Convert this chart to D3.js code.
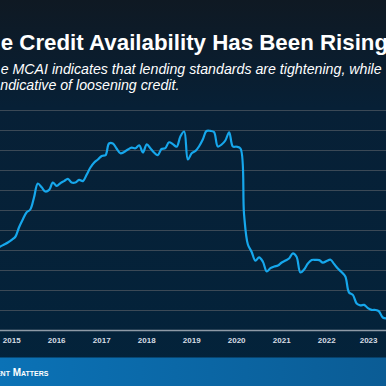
<!DOCTYPE html>
<html><head><meta charset="utf-8">
<script src="https://cdn.jsdelivr.net/npm/d3@7"></script>
<style>html,body{margin:0;padding:0;background:#0a1f30;overflow:hidden}svg{display:block}</style>
</head><body>
<script>
const titleText = "e Credit Availability Has Been Rising";
const subtitleLines = ["e MCAI indicates that lending standards are tightening, while", "ndicative of loosening credit."];
const footerText = "Keeping Current Matters";
const startMonth = "2014-09";
const yearLabels = ["2015","2016","2017","2018","2019","2020","2021","2022","2023"];
const gridValues = [100,110,120,130,140,150,160,170,180,190,200];
const mcai = [131.5,132,133,134,135.3,137,141.5,145.5,149,150.5,156.5,163.5,161.6,159.5,160.3,164,162.3,163.7,164.7,165.8,164,164,165.3,164.7,168,171.5,174,175.5,177.3,177.7,183.5,183.5,181,178.6,179.2,180.5,181.4,181.1,182.6,179,183.1,181,179,177.7,180.75,181.2,184.1,183.2,181.9,187,189.5,175.5,178.6,179.8,182,185.5,189.75,189.8,189.2,182,183,185,189.1,182,181.9,181,148,133,129.4,124.9,126.6,124.4,119.5,121.2,122,122.5,124,125,126,128.6,126.9,119,120.5,123.5,125.25,125.3,125.2,123.9,124.8,125.4,123.3,121,119.2,117,109,107.8,103.5,102.6,102.8,101.2,100.3,100.25,99.6,96.5,96.1];

const W = 386, H = 386;
const svg = d3.select("body").append("svg").attr("width", W).attr("height", H);
const defs = svg.append("defs");
const bg = defs.append("linearGradient").attr("id","bg").attr("x1",0).attr("y1",0).attr("x2",0).attr("y2",1);
bg.append("stop").attr("offset","0%").attr("stop-color","#0f1923");
bg.append("stop").attr("offset","28%").attr("stop-color","#072036");
bg.append("stop").attr("offset","100%").attr("stop-color","#03233b");
const ban = defs.append("linearGradient").attr("id","ban").attr("x1",0).attr("y1",0).attr("x2",1).attr("y2",0);
ban.append("stop").attr("offset","0%").attr("stop-color","#0b72b6");
ban.append("stop").attr("offset","100%").attr("stop-color","#0b5c95");
defs.append("clipPath").attr("id","clip").append("rect").attr("x",0).attr("y",0).attr("width",W).attr("height",H);

svg.append("rect").attr("width",W).attr("height",H).attr("fill","url(#bg)");

const parse = d3.timeParse("%Y-%m");
const start = parse(startMonth);
const data = mcai.map((v,i)=>({date:d3.timeMonth.offset(start,i), value:v}));

const x = d3.scaleTime().domain([new Date(2015,0,1), new Date(2023,0,1)]).range([11.7, 371.7]);
const y = d3.scaleLinear().domain([90,200]).range([330.5,110.5]);

// gridlines
svg.append("g").selectAll("line").data(gridValues).join("line")
  .attr("x1",0).attr("x2",W).attr("y1",d=>y(d)).attr("y2",d=>y(d))
  .attr("stroke","#3b4956").attr("stroke-width",1.2);
// axis line
svg.append("line").attr("x1",0).attr("x2",W).attr("y1",y(90)).attr("y2",y(90))
  .attr("stroke","#8e9aa6").attr("stroke-width",1.4);

// year labels
svg.append("g").selectAll("text").data(yearLabels).join("text")
  .attr("x",d=>Math.min(x(new Date(+d,0,1)), 368.6))
  .attr("y",343.3).attr("text-anchor","middle")
  .attr("font-family","Liberation Sans, Arial, sans-serif").attr("font-weight","bold")
  .attr("font-size",8).attr("fill","#d6dde4").text(d=>d);

// line
const line = d3.line().x(d=>x(d.date)).y(d=>y(d.value)).curve(d3.curveCatmullRom.alpha(0.5));
svg.append("path").datum(data).attr("d",line).attr("fill","none")
  .attr("stroke","#16a7ec").attr("stroke-width",2.2).attr("stroke-linejoin","round")
  .attr("clip-path","url(#clip)");

// title
svg.append("text").attr("x",0.7).attr("y",50)
  .attr("font-family","Liberation Sans, Arial, sans-serif").attr("font-weight","bold")
  .attr("font-size",22.3).attr("fill","#ffffff").text(titleText);
svg.append("g").selectAll("text").data(subtitleLines).join("text")
  .attr("x",(d,i)=> i===0 ? 0.7 : 0.3).attr("y",(d,i)=>74 + i*15.6)
  .attr("font-family","Liberation Sans, Arial, sans-serif").attr("font-style","italic")
  .attr("font-size",14.2).attr("fill","#ffffff").text(d=>d);

// footer banner
svg.append("rect").attr("x",0).attr("y",357.5).attr("width",W).attr("height",H-357.5).attr("fill","url(#ban)");
svg.append("text").attr("x",48.5).attr("y",376).attr("text-anchor","end")
  .attr("font-family","Liberation Sans, Arial, sans-serif").attr("font-weight","bold")
  .attr("font-size",10).style("font-variant","small-caps").attr("fill","#ffffff").text(footerText);
</script>
</body></html>
